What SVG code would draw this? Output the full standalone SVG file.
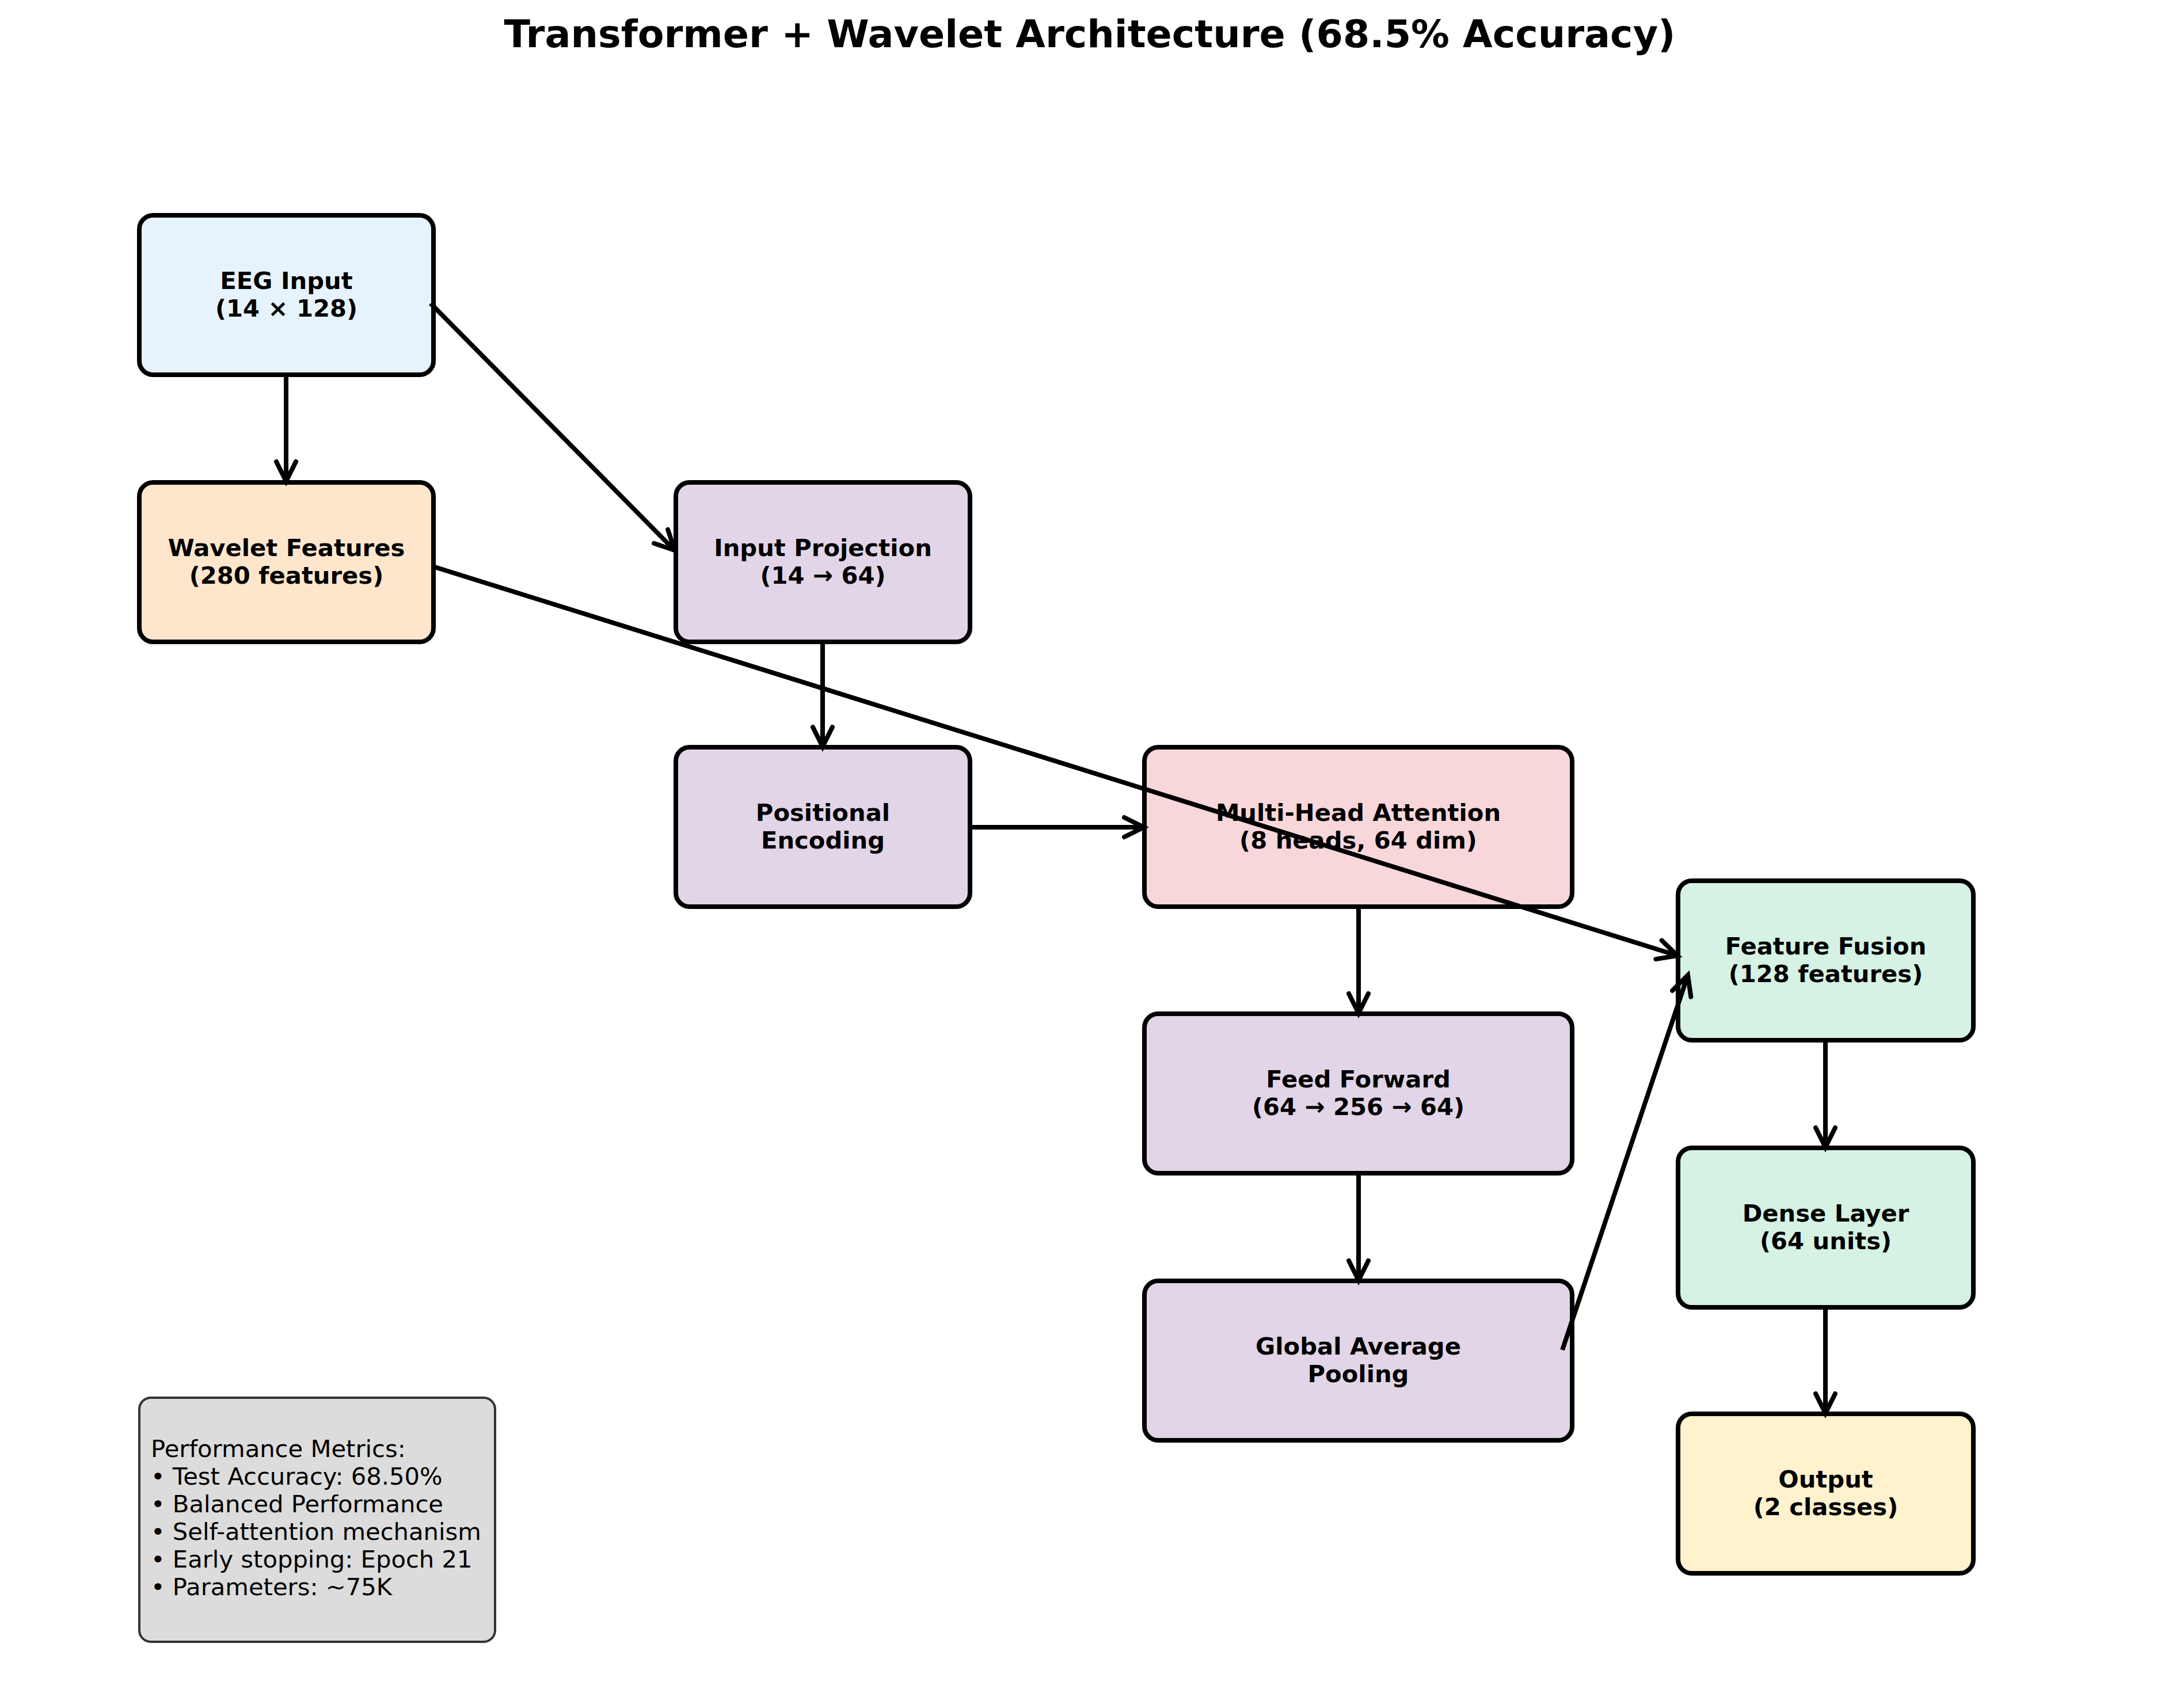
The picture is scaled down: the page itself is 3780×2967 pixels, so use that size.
<svg xmlns="http://www.w3.org/2000/svg" width="3780" height="2967" viewBox="0 0 3780 2967">
<style>
  .box { stroke: #000; stroke-width: 8; }
  .lbl { font-family: "DejaVu Sans", "Liberation Sans", sans-serif; font-weight: bold; font-size: 41.7px; fill: #000; text-anchor: middle; }
  .title { font-family: "DejaVu Sans", "Liberation Sans", sans-serif; font-weight: bold; font-size: 66.7px; fill: #000; text-anchor: middle; }
  .metrics { font-family: "DejaVu Sans", "Liberation Sans", sans-serif; font-size: 41.7px; fill: #000; }
  .conn { stroke: #000; stroke-width: 8; fill: none; marker-end: url(#arrow); }
  .blue { fill: #E6F3FC; }
  .orange { fill: #FEE6CC; }
  .purple { fill: #E1D5E7; }
  .pink { fill: #F7D7DA; }
  .green { fill: #D5F2E4; }
  .yellow { fill: #FFF2CC; }
</style>
<defs>
  <marker id="arrow" markerUnits="userSpaceOnUse" orient="auto" markerWidth="80" markerHeight="80" refX="0" refY="0" viewBox="-50 -40 80 80" overflow="visible">
    <path d="M -34 -17 L 0 0 L -34 17" fill="none" stroke="#000" stroke-width="8" stroke-linecap="round" stroke-linejoin="miter"/>
  </marker>
</defs>
<rect width="3780" height="2967" fill="#ffffff"/>
<text class="title" x="1893" y="82">Transformer + Wavelet Architecture (68.5% Accuracy)</text>

<g id="node-eeg-input">
  <rect class="box blue" x="242" y="374" width="511" height="277" rx="24"/>
  <text class="lbl" x="497.5" y="501.5">EEG Input</text>
  <text class="lbl" x="497.5" y="549.5">(14 × 128)</text>
</g>
<g id="node-wavelet">
  <rect class="box orange" x="242" y="838" width="511" height="277" rx="24"/>
  <text class="lbl" x="497.5" y="965.5">Wavelet Features</text>
  <text class="lbl" x="497.5" y="1013.5">(280 features)</text>
</g>
<g id="node-input-projection">
  <rect class="box purple" x="1174" y="838" width="511" height="277" rx="24"/>
  <text class="lbl" x="1429.5" y="965.5">Input Projection</text>
  <text class="lbl" x="1429.5" y="1013.5">(14 → 64)</text>
</g>
<g id="node-positional-encoding">
  <rect class="box purple" x="1174" y="1298" width="511" height="277" rx="24"/>
  <text class="lbl" x="1429.5" y="1425.5">Positional</text>
  <text class="lbl" x="1429.5" y="1473.5">Encoding</text>
</g>
<g id="node-mha">
  <rect class="box pink" x="1988" y="1298" width="743" height="277" rx="24"/>
  <text class="lbl" x="2359.5" y="1425.5">Multi-Head Attention</text>
  <text class="lbl" x="2359.5" y="1473.5">(8 heads, 64 dim)</text>
</g>
<g id="node-feed-forward">
  <rect class="box purple" x="1988" y="1761" width="743" height="277" rx="24"/>
  <text class="lbl" x="2359.5" y="1888.5">Feed Forward</text>
  <text class="lbl" x="2359.5" y="1936.5">(64 → 256 → 64)</text>
</g>
<g id="node-gap">
  <rect class="box purple" x="1988" y="2225" width="743" height="277" rx="24"/>
  <text class="lbl" x="2359.5" y="2352.5">Global Average</text>
  <text class="lbl" x="2359.5" y="2400.5">Pooling</text>
</g>
<g id="node-feature-fusion">
  <rect class="box green" x="2915" y="1530" width="513" height="277" rx="24"/>
  <text class="lbl" x="3171.5" y="1657.5">Feature Fusion</text>
  <text class="lbl" x="3171.5" y="1705.5">(128 features)</text>
</g>
<g id="node-dense">
  <rect class="box green" x="2915" y="1994" width="513" height="277" rx="24"/>
  <text class="lbl" x="3171.5" y="2121.5">Dense Layer</text>
  <text class="lbl" x="3171.5" y="2169.5">(64 units)</text>
</g>
<g id="node-output">
  <rect class="box yellow" x="2915" y="2456" width="513" height="277" rx="24"/>
  <text class="lbl" x="3171.5" y="2583.5">Output</text>
  <text class="lbl" x="3171.5" y="2631.5">(2 classes)</text>
</g>
<g id="node-metrics">
  <rect x="242" y="2428" width="618" height="424" rx="20" fill="#DCDCDC" stroke="#333333" stroke-width="4"/>
  <text class="metrics" x="262" y="2531">Performance Metrics:</text>
  <text class="metrics" x="262" y="2579">• Test Accuracy: 68.50%</text>
  <text class="metrics" x="262" y="2627">• Balanced Performance</text>
  <text class="metrics" x="262" y="2675">• Self-attention mechanism</text>
  <text class="metrics" x="262" y="2723">• Early stopping: Epoch 21</text>
  <text class="metrics" x="262" y="2771">• Parameters: ~75K</text>
</g>

<g id="connectors">
  <line class="conn" x1="497" y1="652" x2="497" y2="836"/>
  <line class="conn" x1="748" y1="527" x2="1172" y2="956"/>
  <line class="conn" x1="752" y1="984" x2="2914" y2="1660"/>
  <line class="conn" x1="1429" y1="1113" x2="1429" y2="1297"/>
  <line class="conn" x1="1683" y1="1437" x2="1987" y2="1437"/>
  <line class="conn" x1="2360" y1="1574" x2="2360" y2="1760"/>
  <line class="conn" x1="2360" y1="2037" x2="2360" y2="2224"/>
  <line class="conn" x1="2714" y1="2345" x2="2932" y2="1694"/>
  <line class="conn" x1="3171" y1="1808" x2="3171" y2="1993"/>
  <line class="conn" x1="3171" y1="2272" x2="3171" y2="2455"/>
</g>
</svg>
